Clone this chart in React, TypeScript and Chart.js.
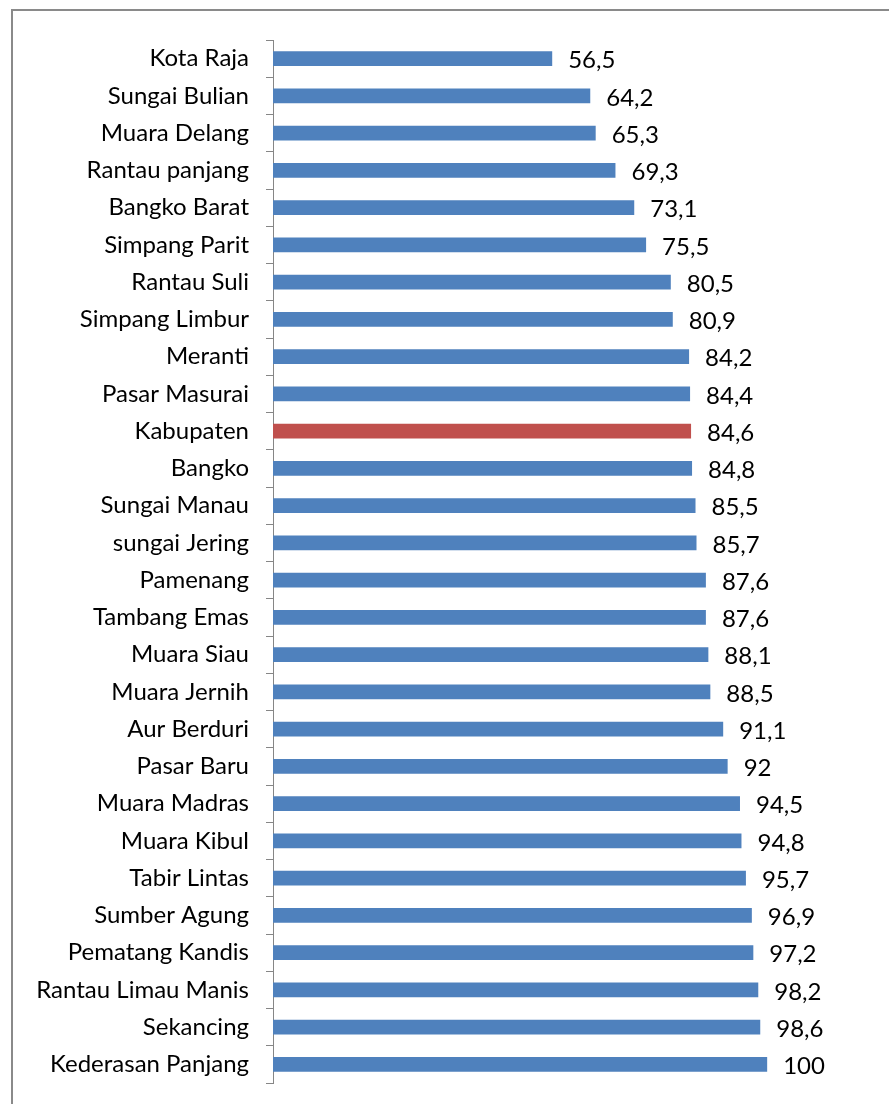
import React, { useEffect, useRef } from "react";
import { Chart, registerables } from "chart.js";

Chart.register(...registerables);

const categories = [
  "Kota Raja", "Sungai Bulian", "Muara Delang", "Rantau panjang", "Bangko Barat",
  "Simpang Parit", "Rantau Suli", "Simpang Limbur", "Meranti", "Pasar Masurai",
  "Kabupaten", "Bangko", "Sungai Manau", "sungai Jering", "Pamenang",
  "Tambang Emas", "Muara Siau", "Muara Jernih", "Aur Berduri", "Pasar Baru",
  "Muara Madras", "Muara Kibul", "Tabir Lintas", "Sumber Agung", "Pematang Kandis",
  "Rantau Limau Manis", "Sekancing", "Kederasan Panjang",
];
const values = [
  56.5, 64.2, 65.3, 69.3, 73.1, 75.5, 80.5, 80.9, 84.2, 84.4,
  84.6, 84.8, 85.5, 85.7, 87.6, 87.6, 88.1, 88.5, 91.1, 92,
  94.5, 94.8, 95.7, 96.9, 97.2, 98.2, 98.6, 100,
];
const highlight = "Kabupaten";

const FONT = "Lato, 'Open Sans', sans-serif";
const FSIZE = 24;

const valueLabels = {
  id: "valueLabels",
  afterDatasetsDraw(chart: any) {
    const ctx = chart.ctx;
    const meta = chart.getDatasetMeta(0);
    ctx.save();
    ctx.font = `${FSIZE}px ${FONT}`;
    ctx.fillStyle = "#000";
    ctx.textAlign = "left";
    ctx.textBaseline = "middle";
    meta.data.forEach((bar: any, i: number) => {
      const txt = String(values[i]).replace(".", ",");
      ctx.fillText(txt, bar.x + 16, bar.y + 2);
    });
    ctx.restore();
  },
};

export default function App() {
  const ref = useRef<HTMLCanvasElement>(null);
  useEffect(() => {
    const chart = new Chart(ref.current!, {
      type: "bar",
      data: {
        labels: categories,
        datasets: [
          {
            data: values,
            backgroundColor: categories.map((c) => (c === highlight ? "#C0504D" : "#4F81BD")),
            barPercentage: 0.8,
            categoryPercentage: 0.5,
          },
        ],
      },
      options: {
        indexAxis: "y",
        animation: false,
        responsive: false,
        maintainAspectRatio: false,
        layout: { padding: { left: 0, top: 40, bottom: 21, right: 23 } },
        plugins: { legend: { display: false }, tooltip: { enabled: false } },
        scales: {
          x: { display: false, min: 0, max: 120 },
          y: {
            offset: true,
            afterFit: (s: any) => { s.width = 273; s.paddingTop = 0; s.paddingBottom = 0; },
            grid: { display: true, drawOnChartArea: false, drawTicks: true, tickLength: 7, color: "#868686", offset: true },
            border: { display: true, color: "#868686", width: 1 },
            ticks: { color: "#000", padding: 17, font: { family: FONT, size: FSIZE } },
          },
        },
      },
      plugins: [valueLabels],
    });
    return () => chart.destroy();
  }, []);
  return (
    <div style={{ position: "fixed", left: 0, top: 0, width: 889, height: 1104, background: "#fff" }}>
      <div style={{ position: "absolute", left: 11, top: 9, width: 900, height: 1200, borderTop: "2px solid #8a8a8a", borderLeft: "2px solid #8a8a8a" }} />
      <canvas ref={ref} width={889} height={1104} style={{ position: "absolute", left: 0, top: 0 }} />
    </div>
  );
}
